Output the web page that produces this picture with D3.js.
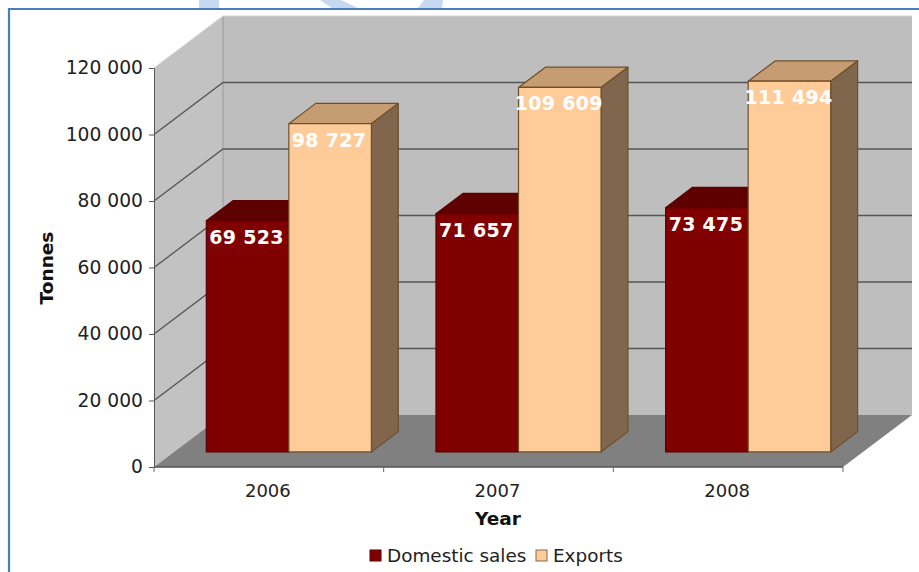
<!DOCTYPE html>
<html>
<head>
<meta charset="utf-8">
<style>
html,body{margin:0;padding:0;background:#fff;overflow:hidden}
svg{display:block}
text{font-family:"DejaVu Sans",sans-serif}
</style>
<script src="https://cdn.jsdelivr.net/npm/d3@7/dist/d3.min.js"></script>
</head>
<body>
<script>
// Production volumes by year, split by sales channel
const years = ["2006", "2007", "2008"];
const domesticSales = [69523, 71657, 73475];
const exportsSold = [98727, 109609, 111494];
const seriesNames = ["Domestic sales", "Exports"];
const yTicks = [0, 20000, 40000, 60000, 80000, 100000, 120000];

const W = 919, H = 572;
const svg = d3.select("body").append("svg").attr("width", W).attr("height", H);

// Page frame and the page-background ornament clipped at the top edge
const ornament = "#c6d9f1";
[[[199,0],[219,0],[219,8],[199,8]],
 [[320,0],[341,0],[358,8],[332,8]],
 [[424,0],[443,0],[442,8],[418,8]]].forEach(p =>
  svg.append("polygon").attr("points", p.join(" ")).attr("fill", ornament));
svg.append("path").attr("d", "M9,572V9H919").attr("fill", "none")
  .attr("stroke", "#4a7ebb").attr("stroke-width", 2.2);

// Scales for the front plane of the box
const x0 = d3.scaleBand().domain(years).range([154, 843]).paddingInner(0).paddingOuter(0);
const x1 = d3.scaleBand().domain(seriesNames).range([32.3, x0.bandwidth() - 32.3]);
const y = d3.scaleLinear().domain([0, 120000]).range([467, 68]);

// Oblique projection: depth 0 is the front plane, depth 1 the back wall
const DX = 69, DY = -52;
const proj = (px, py, d) => [px + DX * d, py + DY * d];
const poly = (pts, fill, stroke, sw) => svg.append("polygon")
  .attr("points", pts.join(" ")).attr("fill", fill)
  .attr("stroke", stroke || "none").attr("stroke-width", sw || 0)
  .attr("stroke-linejoin", "round");

const xL = x0.range()[0], xR = x0.range()[1], y0 = y(0), yT = y(120000);

// Walls and floor
poly([proj(xL, yT, 0), proj(xL, yT, 1), proj(xL, y0, 1), proj(xL, y0, 0)], "#c2c2c2");
poly([proj(xL, yT, 1), proj(xR, yT, 1), proj(xR, y0, 1), proj(xL, y0, 1)], "#bebebe");
poly([proj(xL, y0, 0), proj(xL, y0, 1), proj(xR, y0, 1), proj(xR, y0, 0)], "#808080");
svg.append("path")
  .attr("d", `M${proj(xL, yT, 1)}L${proj(xL, y0, 1)}`)
  .attr("stroke", "#9a9a9a").attr("fill", "none");
svg.append("path")
  .attr("d", `M${proj(xL, yT, 0)}L${proj(xL, yT, 1)}L${proj(xR, yT, 1)}`)
  .attr("stroke", "#d4d4d4").attr("fill", "none");

// Gridlines running along the side wall and the back wall
yTicks.filter(t => t > 0 && t < 120000).forEach(t => {
  svg.append("path")
    .attr("d", `M${proj(xL, y(t), 0)}L${proj(xL, y(t), 1)}L${proj(xR, y(t), 1)}`)
    .attr("fill", "none").attr("stroke", "#555").attr("stroke-width", 1.3);
});

// Bars sit part-way into the box
const D0 = 0.29, D1 = 0.68;
const styles = {
  "Domestic sales": {front: "#800000", top: "#5e0000", side: "#5e0000", line: "#5a0000"},
  "Exports": {front: "#ffcc99", top: "#c69c72", side: "#80664c", line: "#6e4f28"}
};

function bar(name, year, value) {
  const s = styles[name];
  const xa = x0(year) + x1(name), xb = xa + x1.bandwidth();
  const yv = y(value), yb = y(0);
  poly([proj(xa, yv, D0), proj(xa, yv, D1), proj(xb, yv, D1), proj(xb, yv, D0)], s.top, s.line, 1.2);
  poly([proj(xb, yv, D0), proj(xb, yv, D1), proj(xb, yb, D1), proj(xb, yb, D0)], s.side, s.line, 1.2);
  poly([proj(xa, yv, D0), proj(xb, yv, D0), proj(xb, yb, D0), proj(xa, yb, D0)], s.front, s.line, 1.2);
}

years.forEach((yr, i) => {
  bar(seriesNames[0], yr, domesticSales[i]);
  bar(seriesNames[1], yr, exportsSold[i]);
});

// Value labels on the bar fronts
const fmt = v => d3.format(",")(v).replace(/,/g, " ");
years.forEach((yr, i) => {
  [[seriesNames[0], domesticSales[i]], [seriesNames[1], exportsSold[i]]].forEach(([n, v]) => {
    const c = proj(x0(yr) + x1(n) + x1.bandwidth() / 2, y(v), D0);
    svg.append("text").attr("x", c[0] - 1).attr("y", c[1] + 23)
      .attr("text-anchor", "middle").attr("fill", "#fff")
      .attr("font-weight", "bold").attr("font-size", 19).attr("letter-spacing", 0.3)
      .text(fmt(v));
  });
});

// Axes
const yAxis = d3.axisLeft(y).tickValues(yTicks).tickSize(5).tickSizeOuter(0).tickPadding(6).tickFormat(fmt);
const gy = svg.append("g").attr("transform", `translate(${xL},0)`).call(yAxis);
gy.selectAll("text").attr("font-size", 18.7).attr("fill", "#222").attr("font-family", '"DejaVu Sans"');
gy.selectAll("line,path").attr("stroke", "#555");

const xAxis = d3.axisBottom(x0).tickSize(0).tickPadding(17);
const gx = svg.append("g").attr("transform", `translate(-1,${y0})`).call(xAxis);
gx.selectAll("text").attr("font-size", 18).attr("fill", "#222").attr("font-family", '"DejaVu Sans"');
gx.select("path").remove();
svg.append("path").attr("d", `M${xL},${y0}H${xR}`).attr("stroke", "#555").attr("stroke-width", 1.3);
[0, 1, 2, 3].forEach(i => svg.append("path")
  .attr("d", `M${xL + i * x0.step()},${y0}v5`).attr("stroke", "#666"));

// Axis titles
svg.append("text").attr("x", 498).attr("y", 525).attr("text-anchor", "middle")
  .attr("font-weight", "bold").attr("font-size", 18.5).attr("fill", "#111").text("Year");
svg.append("text").attr("transform", "translate(53,268) rotate(-90)").attr("text-anchor", "middle")
  .attr("font-weight", "bold").attr("font-size", 18.5).attr("fill", "#111").text("Tonnes");

// Legend
const legend = [[370, 387, seriesNames[0]], [536, 553, seriesNames[1]]];
legend.forEach(([sx, tx, n]) => {
  svg.append("rect").attr("x", sx).attr("y", 550).attr("width", 11).attr("height", 11)
    .attr("fill", styles[n].front).attr("stroke", n === "Exports" ? "#8a6a40" : "#5a0000");
  svg.append("text").attr("x", tx).attr("y", 562).attr("font-size", 18.4).attr("fill", "#222").text(n);
});
</script>
</body>
</html>
